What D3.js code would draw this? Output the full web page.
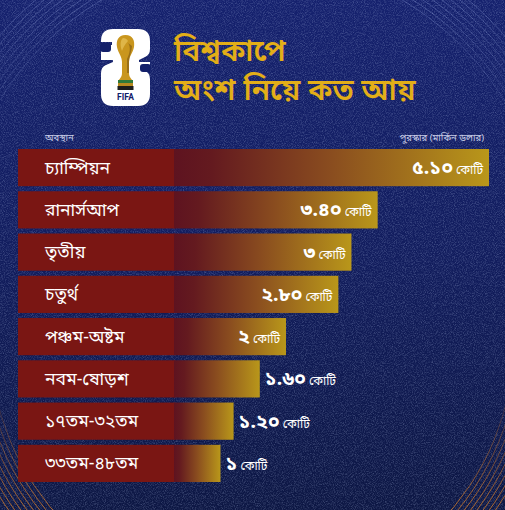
<!DOCTYPE html>
<html>
<head>
<meta charset="utf-8">
<script src="https://cdn.jsdelivr.net/npm/d3@7"></script>
<style>
  html, body { margin: 0; padding: 0; background: #121d5e; }
  svg { display: block; }
  text { font-family: "Noto Sans Bengali", "Noto Sans", "DejaVu Sans", sans-serif; }
</style>
</head>
<body>
<svg id="chart" width="505" height="510"></svg>
<script>
// ---- data ----
const categories = ["চ্যাম্পিয়ন", "রানার্সআপ", "তৃতীয়", "চতুর্থ", "পঞ্চম-অষ্টম", "নবম-ষোড়শ", "১৭তম-৩২তম", "৩৩তম-৪৮তম"];
const prizeCrore = [5.10, 3.40, 3, 2.80, 2, 1.60, 1.20, 1];
const valueLabels = ["৫.১০", "৩.৪০", "৩", "২.৮০", "২", "১.৬০", "১.২০", "১"];
const unitLabel = "কোটি";
const titleLines = ["বিশ্বকাপে", "অংশ নিয়ে কত আয়"];
const leftHeader = "অবস্থান";
const rightHeader = "পুরস্কার (মার্কিন ডলার)";

const W = 505, H = 510;
const svg = d3.select("#chart");
const defs = svg.append("defs");

// background gradient
const bg = defs.append("linearGradient").attr("id", "bgGrad").attr("x1", 0).attr("y1", 0).attr("x2", 0).attr("y2", 1);
bg.append("stop").attr("offset", 0).attr("stop-color", "#15216e");
bg.append("stop").attr("offset", 0.5).attr("stop-color", "#121d5e");
bg.append("stop").attr("offset", 1).attr("stop-color", "#0d1744");

// noise filter
const nf = defs.append("filter").attr("id", "noise").attr("x", 0).attr("y", 0).attr("width", "100%").attr("height", "100%");
nf.append("feTurbulence").attr("type", "fractalNoise").attr("baseFrequency", 1.1).attr("numOctaves", 2).attr("seed", 3).attr("result", "t");
nf.append("feColorMatrix").attr("type", "matrix")
  .attr("values", "0 0 0 0 0.5  0 0 0 0 0.6  0 0 0 0 0.85  0 0 0 1.2 -0.5");

// top arcs gradient (faint bluish)
const agT = defs.append("linearGradient").attr("id", "arcTop").attr("gradientUnits", "userSpaceOnUse")
  .attr("x1", 0).attr("y1", 0).attr("x2", 0).attr("y2", 200);
agT.append("stop").attr("offset", 0).attr("stop-color", "#9fb0ea").attr("stop-opacity", 0.3);
agT.append("stop").attr("offset", 0.6).attr("stop-color", "#9fb0ea").attr("stop-opacity", 0.08);
agT.append("stop").attr("offset", 1).attr("stop-color", "#9fb0ea").attr("stop-opacity", 0);
// bottom arcs gradient (orange)
const agB = defs.append("linearGradient").attr("id", "arcBot").attr("gradientUnits", "userSpaceOnUse")
  .attr("x1", 0).attr("y1", 380).attr("x2", 0).attr("y2", H);
agB.append("stop").attr("offset", 0).attr("stop-color", "#c06a2a").attr("stop-opacity", 0);
agB.append("stop").attr("offset", 0.4).attr("stop-color", "#c87228").attr("stop-opacity", 0.35);
agB.append("stop").attr("offset", 1).attr("stop-color", "#d07a2a").attr("stop-opacity", 0.8);

// bar gradient
const bgBar = defs.append("linearGradient").attr("id", "barGrad").attr("x1", 0).attr("y1", 0).attr("x2", 1).attr("y2", 0);
bgBar.append("stop").attr("offset", 0).attr("stop-color", "#5e1320");
bgBar.append("stop").attr("offset", 0.12).attr("stop-color", "#641a1f");
bgBar.append("stop").attr("offset", 0.5).attr("stop-color", "#8a4d1f");
bgBar.append("stop").attr("offset", 1).attr("stop-color", "#b9971a");

svg.append("rect").attr("width", W).attr("height", H).attr("fill", "url(#bgGrad)");
svg.append("rect").attr("width", W).attr("height", H).attr("filter", "url(#noise)").attr("opacity", 0.5);

// concentric arcs
svg.append("g").selectAll("circle").data(d3.range(296, 340, 5.5)).join("circle")
  .attr("cx", 252).attr("cy", 255).attr("r", d => d)
  .attr("fill", "none").attr("stroke", "url(#arcTop)").attr("stroke-width", 1);
svg.append("g").selectAll("circle").data(d3.range(262, 300, 5)).join("circle")
  .attr("cx", 252).attr("cy", 340).attr("r", d => d)
  .attr("fill", "none").attr("stroke", "url(#arcBot)").attr("stroke-width", 1);

// ---- logo ----
const logo = svg.append("g").attr("transform", "translate(101,29)");
logo.append("path").attr("fill", "#ffffff")
  .attr("d", "M12,0 H37 Q49,0 49,12 V20 Q49,26 44,28 L38,31 V33 H49 V40 L44,42 Q49,44 49,50 V65 Q49,77 37,77 H12 Q0,77 0,65 V44 Q0,38 5,36 L12,33 V31 H0 V20 Q0,17 3,16 H11 L11,13 H0 V12 Q0,0 12,0 Z");
logo.append("rect").attr("x", -1).attr("y", 14).attr("width", 11).attr("height", 9).attr("rx", 3).attr("fill", "#13206a");
logo.append("rect").attr("x", 39).attr("y", 35).attr("width", 11).attr("height", 8).attr("rx", 3).attr("fill", "#13206a");
const tro = logo.append("g");
tro.append("path").attr("fill", "#c9961e")
  .attr("d", "M24.5,6 C17,6 15,12 16,18 C17,24 21,27 21,33 L21,44 C21,48 19,49 18,51 H31 C30,49 28,48 28,44 L28,33 C28,27 32,24 33,18 C34,12 32,6 24.5,6 Z");
tro.append("path").attr("fill", "#e8c35a").attr("opacity", 0.7)
  .attr("d", "M22,9 C19,11 19,17 21,22 C22,19 24,15 27,12 C26,10 24,9 22,9 Z");
tro.append("path").attr("fill", "#7a5512").attr("opacity", 0.6)
  .attr("d", "M27,14 C30,18 29,24 26,30 L26,44 L28,44 L28,33 C28,27 31,22 31,17 Z");
tro.append("rect").attr("x", 17).attr("y", 51).attr("width", 15).attr("height", 3).attr("fill", "#2f7a3a");
tro.append("rect").attr("x", 17).attr("y", 54).attr("width", 15).attr("height", 3).attr("fill", "#b88a20");
tro.append("rect").attr("x", 16.5).attr("y", 57).attr("width", 16).attr("height", 4).attr("fill", "#1d1d1d");
logo.append("text").attr("x", 24.5).attr("y", 71).attr("text-anchor", "middle")
  .attr("font-size", 8.5).attr("font-weight", 700).attr("fill", "#13206a")
  .style("font-family", "Roboto, 'Liberation Sans', sans-serif").text("FIFA");

// ---- title ----
svg.append("g").selectAll("text").data(titleLines).join("text")
  .attr("x", 174).attr("y", (d, i) => 61 + i * 39)
  .attr("font-size", 30).attr("font-weight", 600).attr("fill", "#e3ae18")
  .text(d => d);

// ---- headers ----
svg.append("text").attr("x", 45).attr("y", 141).attr("font-size", 9.5).attr("fill", "#c9cde6").text(leftHeader);
svg.append("text").attr("x", 484).attr("y", 141).attr("text-anchor", "end").attr("font-size", 9.5).attr("fill", "#c9cde6").text(rightHeader);

// ---- scales ----
const y = d3.scaleBand().domain(categories).range([149, 482]).paddingInner(0.12);
const x = d3.scaleLinear().domain([0, 5.1]).range([155, 489]);
const barX0 = 18, solidEnd = 174;

const rows = categories.map((c, i) => ({ c, v: prizeCrore[i], lab: valueLabels[i] }));
const g = svg.append("g");
const row = g.selectAll("g").data(rows).join("g");

row.append("rect").attr("x", barX0).attr("y", d => y(d.c))
  .attr("width", solidEnd - barX0 + 1).attr("height", y.bandwidth()).attr("fill", "#7a1613");
row.append("rect").attr("x", solidEnd).attr("y", d => y(d.c))
  .attr("width", d => x(d.v) - solidEnd).attr("height", y.bandwidth()).attr("fill", "url(#barGrad)");

row.append("text").attr("x", 45).attr("y", d => y(d.c) + y.bandwidth() / 2 + 6)
  .attr("font-size", 17.5).attr("fill", "#ffffff").text(d => d.c);

const inside = d => d.v >= 2;
const vt = row.append("text")
  .attr("x", d => inside(d) ? x(d.v) - 6 : x(d.v) + 5)
  .attr("y", d => y(d.c) + y.bandwidth() / 2 + 6.5)
  .attr("text-anchor", d => inside(d) ? "end" : "start")
  .attr("fill", "#ffffff");
vt.append("tspan").attr("font-size", 19.5).attr("font-weight", 700).text(d => d.lab);
vt.append("tspan").attr("font-size", 12).attr("dx", 3).text(unitLabel);
</script>
</body>
</html>
